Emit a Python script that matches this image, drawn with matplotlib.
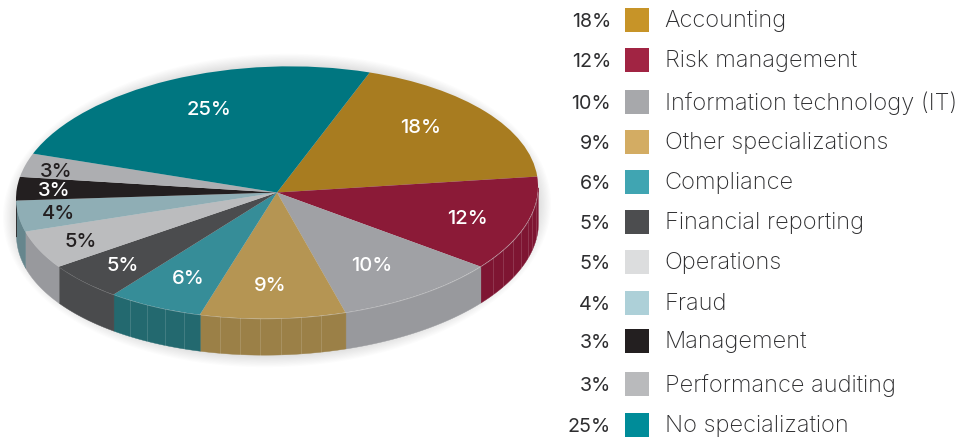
#!/usr/bin/env python3
"""Squashed pie with a drawn side wall, and a hand-placed key on the right."""
import matplotlib
matplotlib.use("Agg")
import matplotlib.pyplot as plt
import numpy as np
from matplotlib.patches import Ellipse, Rectangle
from matplotlib.transforms import Affine2D

labels = ["Accounting", "Risk management", "Information technology (IT)",
          "Other specializations", "Compliance", "Financial reporting",
          "Operations", "Fraud", "Management", "Performance auditing",
          "No specialization"]
values = [18, 12, 10, 9, 6, 5, 5, 4, 3, 3, 25]

top_colors = ["#A87C20", "#8B1A37", "#A0A1A5", "#B59553", "#368D98", "#4B4C4E",
              "#BBBCBE", "#8FAEB5", "#231F20", "#ADAEB1", "#007680"]
wall_colors = ["#A87C20", "#7E1532", "#98999D", "#9B8047", "#23696F", "#4A4B4D",
               "#98999D", "#66868D", "#231F20", "#ADAEB1", "#007680"]
key_colors = ["#C79428", "#A12443", "#A7A8AB", "#D3AC63", "#40A5B2", "#4C4D4F",
              "#DCDDDE", "#ADD0D8", "#231F20", "#B9BABC", "#008C99"]
label_colors = ["white", "white", "white", "white", "white", "white",
                "#231F20", "#231F20", "white", "#231F20", "white"]

# layout, in pixels of the 972x439 picture
W, H = 972, 439
CX, CY, RX, RY = 277, 193.5, 261, 126
WALL = 36 / RY
START = 69.2
TILT = 0.05  # the disc leans: right side higher than left
label_xy = [(421, 128.5), (467, 219.5), (372, 266.5), (270, 286.5), (188, 279.5),
            (123, 266.5), (81, 242.5), (58, 214.5), (54, 191.5), (56, 172.5), (209, 110.5)]
key_y = [21, 61, 103, 143, 183, 223, 263, 304, 342, 385, 426]
FONT = "Inter"

fig = plt.figure(figsize=(W / 100, H / 100), dpi=100)

ax = fig.add_axes([0, 0, 1, 1])
ax.set_xlim((0 - CX) / RX, (W - CX) / RX)
ax.set_ylim((CY - H) / RY, CY / RY)
lean = Affine2D(np.array([[1, 0, 0], [TILT, 1, 0], [0, 0, 1]]))

# soft shadow behind the disc
for grow in np.linspace(0.05, 0.0, 12):
    sh = Ellipse((0, -WALL / 2), 2 * (1 + grow), 2 * (1 + 2 * grow) + WALL,
                 facecolor="black", edgecolor="none", alpha=0.012, zorder=0)
    ax.add_patch(sh)
    sh.set_transform(lean + ax.transData)

# side wall: one band per slice, lower half only
edges = START - np.cumsum([0] + values) * 3.6
for i in range(len(values)):
    hi, lo = edges[i], edges[i + 1]
    th = np.radians(np.linspace(lo, hi, 80))
    th = th[np.sin(th) <= 0]
    if len(th) < 2:
        continue
    x = np.cos(th)
    y = np.sin(th) + TILT * x
    ax.fill_between(x, y - WALL, y, color=wall_colors[i], linewidth=0.3, zorder=1)
    # faint ribs on the coloured panels
    if labels[i] in ("Risk management", "Other specializations", "Compliance"):
        for a in np.arange(lo + 4.5, hi - 2, 4.5):
            t = np.radians(a)
            if np.sin(t) < 0:
                yt = np.sin(t) + TILT * np.cos(t)
                ax.plot([np.cos(t)] * 2, [yt - WALL, yt],
                        color="white", alpha=0.14, linewidth=0.7, zorder=2)

xlim, ylim = ax.get_xlim(), ax.get_ylim()
wedges, _ = ax.pie(values, colors=top_colors, startangle=START, counterclock=False,
                   radius=1.0, wedgeprops={"linewidth": 0, "zorder": 3})
ax.set_aspect("auto")
ax.set_xlim(xlim)
ax.set_ylim(ylim)
ax.axis("off")
for w in wedges:
    w.set_transform(lean + ax.transData)

# overlay in pixel coordinates for the texts and the key
lg = fig.add_axes([0, 0, 1, 1])
lg.set_xlim(0, W)
lg.set_ylim(H, 0)
lg.axis("off")
lg.patch.set_alpha(0)

for i, (px, py) in enumerate(label_xy):
    lg.text(px, py, f"{values[i]}%", color=label_colors[i], fontsize=14.5,
            family=FONT, ha="center", va="center", fontweight="medium")

for i, y in enumerate(key_y):
    lg.text(611, y + 1, f"{values[i]}%", color="#2E2E30", fontsize=14.2,
            family=FONT, ha="right", va="center", fontweight="normal")
    lg.add_patch(Rectangle((625, y - 12), 24, 24, facecolor=key_colors[i],
                           edgecolor="none"))
    lg.text(664.5, y + 0.5, labels[i], color="#2E2E30", fontsize=17, family=FONT,
            ha="left", va="center", fontweight="light")

fig.savefig("out.png", dpi=100)
